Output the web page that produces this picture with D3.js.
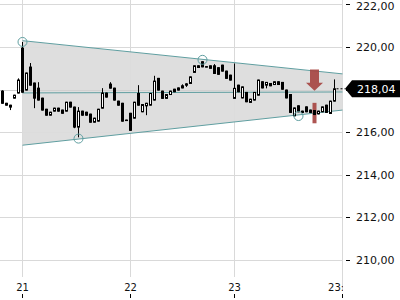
<!DOCTYPE html>
<html>
<head>
<meta charset="utf-8">
<style>
  body { margin: 0; background: #fff; }
  svg { display: block; font-family: "DejaVu Sans", sans-serif; }
</style>
</head>
<body>
<svg width="400" height="300"></svg>
<script src="https://d3js.org/d3.v7.min.js"></script>
<script>

// data: one candle per slot, index = position on the x axis
const opens = [217.93,217.36,217.27,217.60,217.84,219.95,217.98,219.06,218.31,218.07,
  217.60,217.08,216.80,216.99,217.13,217.04,216.99,217.41,217.18,216.24,
  216.99,216.94,216.85,216.47,216.52,217.13,217.84,218.26,218.07,217.46,
  217.36,216.57,216.89,216.66,217.82,216.96,217.24,217.27,217.51,218.53,
  217.93,217.59,217.77,218.02,218.08,218.18,218.27,218.29,218.81,219.12,
  219.31,219.08,219.00,219.12,219.03,219.15,218.87,218.68,217.59,218.21,
  217.61,217.87,217.40,217.51,217.74,218.37,218.21,218.29,218.24,218.37,
  218.34,217.98,217.77,216.77,217.24,216.99,217.19,217.04,217.02,216.86,
  216.96,217.27,216.88,217.46];
const closes = [217.36,217.27,217.18,217.74,218.45,217.88,218.78,218.21,217.60,217.51,
  217.04,216.80,216.94,217.13,216.99,216.89,217.41,217.18,216.24,216.99,
  216.80,216.80,216.47,216.66,217.08,217.84,217.65,218.07,217.51,217.27,
  216.52,216.55,216.09,217.41,217.27,217.30,217.36,217.82,218.40,217.98,
  217.59,217.77,217.93,217.90,217.98,218.08,218.21,218.60,219.12,219.04,
  219.07,219.06,219.12,218.76,218.72,218.87,218.53,218.45,218.06,217.90,
  218.13,217.43,217.55,217.87,218.45,218.08,218.34,218.18,218.37,218.24,
  218.02,217.61,216.93,217.14,216.96,216.93,216.96,216.93,216.83,216.99,
  217.19,216.93,217.46,218.04];
const highs = [217.97,217.38,217.29,217.76,218.53,220.24,218.80,219.25,218.33,218.35,
  217.62,217.10,216.96,217.15,217.15,217.06,217.43,217.43,217.20,217.18,
  217.01,216.96,216.87,216.68,217.10,218.07,217.86,218.35,218.09,217.48,
  217.38,216.59,216.91,217.43,218.21,217.32,217.38,217.84,218.65,218.55,
  217.95,217.79,217.95,218.04,218.10,218.25,218.30,218.62,219.14,219.14,
  219.33,219.09,219.14,219.20,219.05,219.17,218.89,218.70,219.23,218.23,
  218.15,217.89,217.57,217.89,218.47,218.39,218.36,218.31,218.39,218.39,
  218.36,218.00,217.79,217.16,217.26,217.01,217.21,217.06,217.04,217.01,
  217.21,217.29,217.48,218.48];
const lows = [217.34,217.25,217.04,217.58,217.82,217.86,217.96,218.19,217.13,217.49,
  217.02,216.78,216.78,216.97,216.97,216.87,216.97,217.16,216.19,215.76,
  216.78,216.78,216.45,216.45,216.50,217.11,217.63,218.05,217.49,217.25,
  216.50,216.53,216.07,216.64,217.25,216.94,216.80,217.25,217.49,217.96,
  217.57,217.57,217.75,217.88,217.96,218.06,218.13,218.27,218.79,219.02,
  219.05,219.05,218.98,218.74,218.70,218.85,218.51,218.43,217.57,217.88,
  217.59,217.41,217.38,217.49,217.72,218.06,218.06,218.16,218.22,218.22,
  218.00,217.59,216.91,216.75,216.94,216.91,216.94,216.91,216.81,216.84,
  216.94,216.91,216.86,217.44];

// wedge (triangle) pattern
const wedgeIdx = [5, 85];
const wedgeUpper = [220.30, 218.74];
const wedgeLower = [215.39, 217.04];
const touchIdx = [5, 19, 50, 74];
const touchPrice = [220.24, 215.70, 219.40, 216.76];

// signal markers
const arrowIdx = 78, arrowTop = 218.95, arrowTip = 217.95;
const barTop = 217.38, barBottom = 216.42;

const lastPrice = 218.04;

// axis ticks
const xTickIdx = [5, 32, 58, 85];
const xTickLabels = ["21", "22", "23", "23:00"];
const yTicks = [210, 212, 214, 216, 218, 220, 222];

//START: Init
const svg = d3.select("svg"),
    plotRight = 342.5,
    plotBottom = 277;

const teal = "#5f9ea0",
    grid = "#d9d9d9",
    red = "#a5433f";

const x = d3.scaleLinear().domain([0, 85]).range([2.5, 342.5]);
const y = d3.scaleLinear().domain([209.2, 222.21]).range([plotBottom, 0]);

const fmt = v => d3.format(".2f")(v).replace(".", ",");

svg.append("defs").append("clipPath").attr("id", "plot")
  .append("rect").attr("x", 0).attr("y", 0).attr("width", plotRight + 0.5).attr("height", 300);

// grid
const gGrid = svg.append("g");
gGrid.selectAll(".hg").data(yTicks).enter().append("line")
  .attr("x1", 0).attr("x2", plotRight)
  .attr("y1", d => Math.round(y(d)) + 0.5).attr("y2", d => Math.round(y(d)) + 0.5)
  .attr("stroke", grid);
gGrid.selectAll(".vg").data(xTickIdx).enter().append("line")
  .attr("x1", d => x(d)).attr("x2", d => x(d))
  .attr("y1", 0).attr("y2", d => d === 85 ? 290 : plotBottom)
  .attr("stroke", grid);

// wedge
const plot = svg.append("g").attr("clip-path", "url(#plot)");
const wedgePts = [
  [x(wedgeIdx[0]), y(wedgeUpper[0])], [x(wedgeIdx[1]), y(wedgeUpper[1])],
  [x(wedgeIdx[1]), y(wedgeLower[1])], [x(wedgeIdx[0]), y(wedgeLower[0])]
];
plot.append("polygon")
  .attr("points", wedgePts.map(p => p.join(",")).join(" "))
  .attr("fill", "#dcdcdc").attr("fill-opacity", 0.95);
plot.append("line")
  .attr("x1", x(wedgeIdx[0])).attr("x2", x(wedgeIdx[1]))
  .attr("y1", y(wedgeUpper[0])).attr("y2", y(wedgeUpper[1]))
  .attr("stroke", teal);
plot.append("line")
  .attr("x1", x(wedgeIdx[0])).attr("x2", x(wedgeIdx[1]))
  .attr("y1", y(wedgeLower[0])).attr("y2", y(wedgeLower[1]))
  .attr("stroke", teal);
plot.append("line")
  .attr("x1", x(wedgeIdx[0])).attr("x2", x(wedgeIdx[1]))
  .attr("y1", y((wedgeUpper[0] + wedgeLower[0]) / 2))
  .attr("y2", y((wedgeUpper[1] + wedgeLower[1]) / 2))
  .attr("stroke", teal);
// grid line at 218 runs over the wedge too
plot.append("line")
  .attr("x1", 0).attr("x2", plotRight)
  .attr("y1", Math.round(y(218)) + 0.5).attr("y2", Math.round(y(218)) + 0.5)
  .attr("stroke", "#c8c8c8").attr("stroke-opacity", 0.6);

// signal markers
const ax = x(arrowIdx);
const aTop = y(arrowTop), aTip = y(arrowTip), aNeck = aTip - 8;
plot.append("polygon")
  .attr("points", [
    [ax - 4.5, aTop], [ax + 4.5, aTop], [ax + 4.5, aNeck], [ax + 8.5, aNeck],
    [ax, aTip], [ax - 8.5, aNeck], [ax - 4.5, aNeck]
  ].map(p => p.join(",")).join(" "))
  .attr("fill", red).attr("fill-opacity", 0.9);
plot.append("rect")
  .attr("x", ax - 2).attr("width", 4)
  .attr("y", y(barTop)).attr("height", y(barBottom) - y(barTop))
  .attr("fill", red).attr("fill-opacity", 0.9);

// candles
const candles = opens.map((o, i) => ({i: i, o: o, h: highs[i], l: lows[i], c: closes[i]}));
const cg = plot.append("g").selectAll("g").data(candles).enter().append("g");
cg.append("line")
  .attr("x1", d => x(d.i)).attr("x2", d => x(d.i))
  .attr("y1", d => y(d.h)).attr("y2", d => y(d.l))
  .attr("stroke", "#000");
cg.append("rect")
  .attr("x", d => x(d.i) - 1).attr("width", 2)
  .attr("y", d => y(Math.max(d.o, d.c)))
  .attr("height", d => Math.max(0.5, Math.abs(y(d.o) - y(d.c))))
  .attr("fill", d => d.c >= d.o ? "#fff" : "#000")
  .attr("stroke", "#000");

// touch circles
plot.selectAll(".touch").data(touchIdx).enter().append("circle")
  .attr("cx", d => x(d)).attr("cy", (d, k) => y(touchPrice[k]))
  .attr("r", 4.5).attr("fill", "none").attr("stroke", teal);

// y axis on the right
const gy = svg.append("g");
gy.selectAll("line").data(yTicks).enter().append("line")
  .attr("x1", 346).attr("x2", 350)
  .attr("y1", d => Math.round(y(d)) + 0.5).attr("y2", d => Math.round(y(d)) + 0.5)
  .attr("stroke", "#000");
gy.selectAll("text").data(yTicks.filter(d => d !== 218)).enter().append("text")
  .attr("x", 356).attr("y", d => Math.max(y(d), 6.5)).attr("dy", "0.35em")
  .attr("font-size", 11).attr("fill", "#111")
  .text(d => fmt(d));

// last price line + tag
const ly = y(lastPrice);
svg.append("line")
  .attr("x1", x(83) + 2).attr("x2", 345).attr("y1", ly).attr("y2", ly)
  .attr("stroke", "#000").attr("stroke-dasharray", "2,2");
svg.append("polygon")
  .attr("points", [[345, ly], [352, ly - 8.5], [400, ly - 8.5], [400, ly + 8.5], [352, ly + 8.5]]
    .map(p => p.join(",")).join(" "))
  .attr("fill", "#000");
svg.append("text")
  .attr("x", 357).attr("y", ly).attr("dy", "0.35em")
  .attr("font-size", 11).attr("fill", "#fff")
  .text(fmt(lastPrice));

// x axis
const gx = svg.append("g").attr("clip-path", "url(#plot)");
gx.selectAll("text").data(xTickIdx).enter().append("text")
  .attr("x", d => x(d)).attr("y", 291)
  .attr("text-anchor", "middle").attr("font-size", 10).attr("fill", "#111")
  .text((d, k) => xTickLabels[k]);
svg.append("g").selectAll("line").data(xTickIdx).enter().append("line")
  .attr("x1", d => x(d)).attr("x2", d => x(d))
  .attr("y1", 294).attr("y2", 298)
  .attr("stroke", "#000");

</script>
</body>
</html>
